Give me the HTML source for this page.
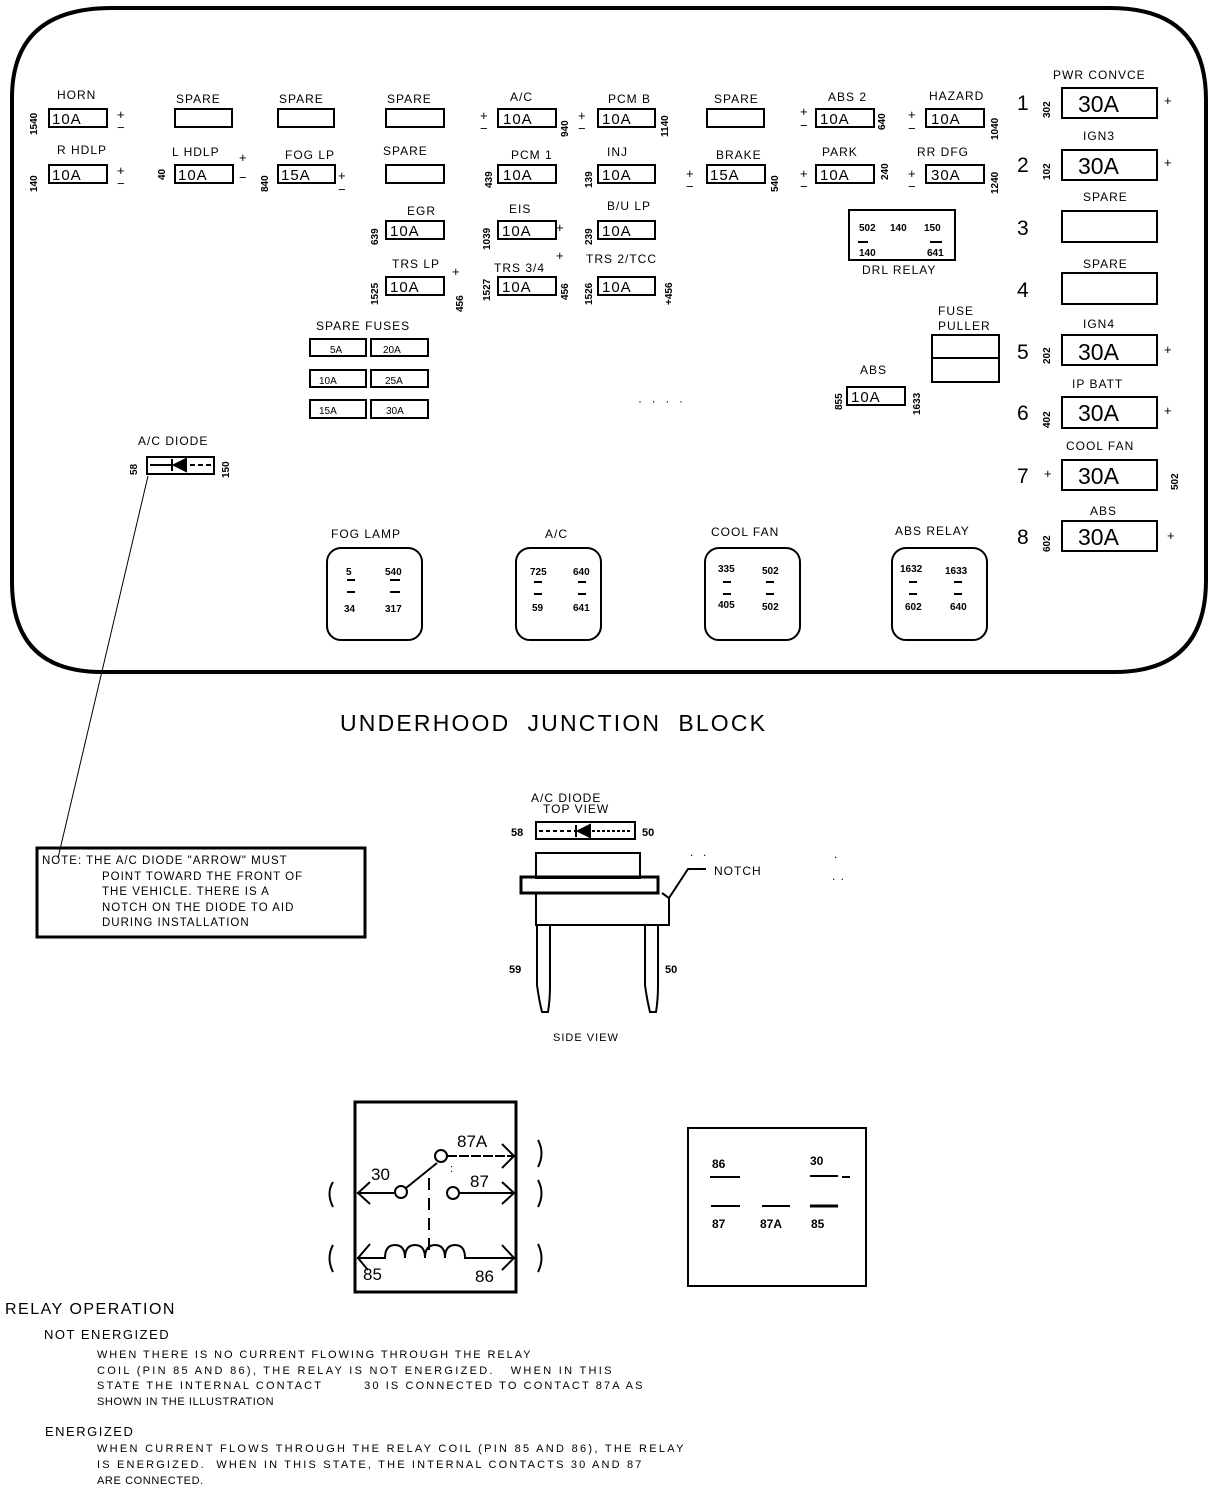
<!DOCTYPE html>
<html><head><meta charset="utf-8"><style>
html,body{margin:0;padding:0;background:#fff;}
svg{display:block;font-family:"Liberation Sans",sans-serif;font-size:12px;letter-spacing:1px}
text{fill:#000;stroke:none;white-space:pre}
.v{font-size:15px;letter-spacing:1px}
.b{font-size:23px;letter-spacing:0}
.s{font-size:10px;letter-spacing:0}
.r{font-size:10px;font-weight:bold;letter-spacing:0}
</style></head><body>
<svg width="1216" height="1490" viewBox="0 0 1216 1490" xmlns="http://www.w3.org/2000/svg" stroke="#000" fill="none">
<path d="M112 8 H1110 Q1206 8 1206 100 V580 Q1206 672 1114 672 H102 Q12 672 12 582 V98 Q12 8 112 8 Z" stroke-width="4"/>
<g stroke-width="2">
<rect x="49" y="109" width="58" height="18"/><rect x="175" y="109" width="57" height="18"/><rect x="278" y="109" width="56" height="18"/><rect x="386" y="109" width="58" height="18"/><rect x="498" y="109" width="58" height="18"/><rect x="598" y="109" width="57" height="18"/><rect x="707" y="109" width="57" height="18"/><rect x="816" y="109" width="58" height="18"/><rect x="926" y="109" width="58" height="18"/>
<rect x="49" y="165" width="58" height="18"/><rect x="175" y="165" width="58" height="18"/><rect x="278" y="165" width="57" height="18"/><rect x="386" y="165" width="58" height="18"/><rect x="498" y="165" width="58" height="18"/><rect x="598" y="165" width="57" height="18"/><rect x="707" y="165" width="58" height="18"/><rect x="816" y="165" width="58" height="18"/><rect x="926" y="165" width="58" height="18"/>
<rect x="386" y="221" width="58" height="18"/><rect x="498" y="221" width="58" height="18"/><rect x="598" y="221" width="57" height="18"/>
<rect x="386" y="277" width="58" height="18"/><rect x="498" y="277" width="58" height="18"/><rect x="598" y="277" width="57" height="18"/>
<rect x="310" y="339" width="56" height="17"/><rect x="371" y="339" width="57" height="17"/>
<rect x="310" y="370" width="56" height="17"/><rect x="371" y="370" width="57" height="17"/>
<rect x="310" y="400" width="56" height="18"/><rect x="371" y="400" width="57" height="18"/>
<rect x="849" y="210" width="106" height="50"/>
<rect x="932" y="335" width="67" height="47"/><line x1="932" y1="358" x2="999" y2="358"/>
<rect x="847" y="387" width="58" height="18"/>
<rect x="1062" y="88" width="95" height="30"/><rect x="1062" y="150" width="95" height="30"/><rect x="1062" y="211" width="95" height="31"/><rect x="1062" y="273" width="95" height="31"/><rect x="1062" y="335" width="95" height="30"/><rect x="1062" y="397" width="95" height="31"/><rect x="1062" y="460" width="95" height="30"/><rect x="1062" y="521" width="95" height="30"/>
<rect x="147" y="457" width="67" height="17"/>
<line x1="150" y1="465" x2="172" y2="465"/><line x1="190" y1="465" x2="211" y2="465" stroke-dasharray="5 3"/>
<rect x="327" y="548" width="95" height="92" rx="14"/><rect x="516" y="548" width="85" height="92" rx="14"/><rect x="705" y="548" width="95" height="92" rx="14"/><rect x="892" y="548" width="95" height="92" rx="14"/>
</g>
<path d="M172 459 L172 471 M186 459 L174 465 L186 471 Z" fill="#000" stroke-width="2"/>
<g stroke-width="2">
<line x1="347" y1="580" x2="355" y2="580"/><line x1="347" y1="592" x2="355" y2="592"/><line x1="390" y1="580" x2="400" y2="580"/><line x1="390" y1="592" x2="400" y2="592"/>
<line x1="534" y1="582" x2="542" y2="582"/><line x1="534" y1="594" x2="542" y2="594"/><line x1="578" y1="582" x2="586" y2="582"/><line x1="578" y1="594" x2="586" y2="594"/>
<line x1="723" y1="582" x2="731" y2="582"/><line x1="723" y1="594" x2="731" y2="594"/><line x1="766" y1="582" x2="774" y2="582"/><line x1="766" y1="594" x2="774" y2="594"/>
<line x1="909" y1="582" x2="917" y2="582"/><line x1="909" y1="594" x2="917" y2="594"/><line x1="954" y1="582" x2="962" y2="582"/><line x1="954" y1="594" x2="962" y2="594"/>
<line x1="930" y1="242" x2="942" y2="242"/><line x1="858" y1="242" x2="868" y2="242"/>
</g>
<text x="57" y="99">HORN</text><text x="176" y="103">SPARE</text><text x="279" y="103">SPARE</text><text x="387" y="103">SPARE</text><text x="510" y="101">A/C</text><text x="608" y="103">PCM B</text><text x="714" y="103">SPARE</text><text x="828" y="101">ABS 2</text><text x="929" y="100">HAZARD</text>
<text x="57" y="154">R HDLP</text><text x="172" y="156">L HDLP</text><text x="285" y="159">FOG LP</text><text x="383" y="155">SPARE</text><text x="511" y="159">PCM 1</text><text x="607" y="156">INJ</text><text x="716" y="159">BRAKE</text><text x="822" y="156">PARK</text><text x="917" y="156">RR DFG</text>
<text x="407" y="215">EGR</text><text x="509" y="213">EIS</text><text x="607" y="210">B/U LP</text>
<text x="392" y="268">TRS LP</text><text x="494" y="272">TRS 3/4</text><text x="586" y="263">TRS 2/TCC</text>
<text x="316" y="330">SPARE FUSES</text>
<g class="v">
<text x="52" y="124">10A</text><text x="52" y="180">10A</text><text x="178" y="180">10A</text><text x="281" y="180">15A</text>
<text x="503" y="124">10A</text><text x="602" y="124">10A</text><text x="820" y="124">10A</text><text x="931" y="124">10A</text>
<text x="503" y="180">10A</text><text x="602" y="180">10A</text><text x="710" y="180">15A</text><text x="820" y="180">10A</text><text x="931" y="180">30A</text>
<text x="390" y="236">10A</text><text x="502" y="236">10A</text><text x="602" y="236">10A</text>
<text x="390" y="292">10A</text><text x="502" y="292">10A</text><text x="602" y="292">10A</text>
<text x="851" y="402">10A</text>
</g>
<g class="s">
<text x="330" y="353">5A</text><text x="383" y="353">20A</text><text x="319" y="384">10A</text><text x="385" y="384">25A</text><text x="319" y="414">15A</text><text x="386" y="414">30A</text>
</g>
<g style="font-size:13px">
<text x="117" y="119">+</text><text x="117" y="132">−</text><text x="117" y="175">+</text><text x="117" y="188">−</text>
<text x="239" y="162">+</text><text x="239" y="182">−</text><text x="338" y="180">+</text><text x="338" y="194">−</text>
<text x="480" y="120">+</text><text x="480" y="133">−</text><text x="578" y="120">+</text><text x="578" y="133">−</text>
<text x="800" y="116">+</text><text x="800" y="130">−</text><text x="908" y="119">+</text><text x="908" y="133">−</text>
<text x="686" y="178">+</text><text x="686" y="191">−</text><text x="800" y="178">+</text><text x="800" y="191">−</text><text x="908" y="178">+</text><text x="908" y="191">−</text>
<text x="556" y="232">+</text><text x="556" y="260">+</text><text x="452" y="276">+</text>
<text x="1164" y="105">+</text><text x="1164" y="167">+</text><text x="1164" y="354">+</text><text x="1164" y="415">+</text><text x="1044" y="478">+</text><text x="1167" y="540">+</text>
</g>
<g class="r">
<text transform="translate(37,135) rotate(-90)">1540</text><text transform="translate(37,192) rotate(-90)">140</text>
<text transform="translate(165,180) rotate(-90)">40</text><text transform="translate(268,192) rotate(-90)">840</text>
<text transform="translate(568,137) rotate(-90)">940</text><text transform="translate(668,137) rotate(-90)">1140</text>
<text transform="translate(885,130) rotate(-90)">640</text><text transform="translate(998,140) rotate(-90)">1040</text>
<text transform="translate(492,188) rotate(-90)">439</text><text transform="translate(592,188) rotate(-90)">139</text>
<text transform="translate(778,192) rotate(-90)">540</text><text transform="translate(888,180) rotate(-90)">240</text><text transform="translate(998,194) rotate(-90)">1240</text>
<text transform="translate(378,245) rotate(-90)">639</text><text transform="translate(490,250) rotate(-90)">1039</text><text transform="translate(592,245) rotate(-90)">239</text>
<text transform="translate(378,305) rotate(-90)">1525</text><text transform="translate(490,301) rotate(-90)">1527</text><text transform="translate(592,305) rotate(-90)">1526</text>
<text transform="translate(463,312) rotate(-90)">456</text><text transform="translate(568,300) rotate(-90)">456</text><text transform="translate(672,305) rotate(-90)">+456</text>
<text transform="translate(842,410) rotate(-90)">855</text><text transform="translate(920,415) rotate(-90)">1633</text>
<text transform="translate(1050,118) rotate(-90)">302</text><text transform="translate(1050,180) rotate(-90)">102</text><text transform="translate(1050,364) rotate(-90)">202</text><text transform="translate(1050,428) rotate(-90)">402</text><text transform="translate(1178,490) rotate(-90)">502</text><text transform="translate(1050,552) rotate(-90)">602</text>
<text transform="translate(137,475) rotate(-90)">58</text><text transform="translate(229,478) rotate(-90)">150</text>
</g>
<g class="r"><text x="859" y="231">502</text><text x="890" y="231">140</text><text x="924" y="231">150</text><text x="859" y="256">140</text><text x="927" y="256">641</text></g>
<text x="862" y="274">DRL RELAY</text>
<text x="938" y="315">FUSE</text><text x="938" y="330">PULLER</text><text x="860" y="374">ABS</text>
<text x="638" y="405">·  ·  ·  ·</text>
<text x="1053" y="79">PWR CONVCE</text><text x="1083" y="140">IGN3</text><text x="1083" y="201">SPARE</text><text x="1083" y="268">SPARE</text><text x="1083" y="328">IGN4</text><text x="1072" y="388">IP BATT</text><text x="1066" y="450">COOL FAN</text><text x="1090" y="515">ABS</text>
<g class="b"><text x="1078" y="112">30A</text><text x="1078" y="174">30A</text><text x="1078" y="360">30A</text><text x="1078" y="421">30A</text><text x="1078" y="484">30A</text><text x="1078" y="545">30A</text></g>
<g style="font-size:21px;letter-spacing:0"><text x="1017" y="110">1</text><text x="1017" y="172">2</text><text x="1017" y="235">3</text><text x="1017" y="297">4</text><text x="1017" y="359">5</text><text x="1017" y="420">6</text><text x="1017" y="483">7</text><text x="1017" y="544">8</text></g>
<text x="138" y="445">A/C DIODE</text>
<text x="331" y="538">FOG LAMP</text><text x="545" y="538">A/C</text><text x="711" y="536">COOL FAN</text><text x="895" y="535">ABS RELAY</text>
<g class="r"><text x="346" y="575">5</text><text x="385" y="575">540</text><text x="344" y="612">34</text><text x="385" y="612">317</text>
<text x="530" y="575">725</text><text x="573" y="575">640</text><text x="532" y="611">59</text><text x="573" y="611">641</text>
<text x="718" y="572">335</text><text x="762" y="574">502</text><text x="718" y="608">405</text><text x="762" y="610">502</text>
<text x="900" y="572">1632</text><text x="945" y="574">1633</text><text x="905" y="610">602</text><text x="950" y="610">640</text></g>
<text x="340" y="731" style="font-size:23px;letter-spacing:3px" textLength="428">UNDERHOOD  JUNCTION  BLOCK</text>
<line x1="148" y1="476" x2="58" y2="858" stroke-width="1"/>
<rect x="37" y="848" width="328" height="89" stroke-width="3"/>
<g style="font-size:11.5px"><text x="42" y="864">NOTE: THE A/C DIODE "ARROW" MUST</text><text x="102" y="880">POINT TOWARD THE FRONT OF</text><text x="102" y="895">THE VEHICLE. THERE IS A</text><text x="102" y="911">NOTCH ON THE DIODE TO AID</text><text x="102" y="926">DURING INSTALLATION</text></g>
<text x="531" y="802">A/C DIODE</text><text x="543" y="813">TOP VIEW</text>
<text x="511" y="836" class="r" style="font-size:11px">58</text><text x="642" y="836" class="r" style="font-size:11px">50</text>
<g stroke-width="2">
<rect x="536" y="822" width="99" height="17"/>
<line x1="539" y1="831" x2="576" y2="831" stroke-dasharray="4 3"/><line x1="592" y1="831" x2="632" y2="831" stroke-dasharray="3 2"/>
<rect x="536" y="853" width="104" height="25"/>
<rect x="521" y="877" width="137" height="16" stroke-width="3"/>
<path d="M536 893 V925 H669 V898 L662 893"/>
<path d="M537 925 V985 Q539 1000 542 1012 H548 Q550 1000 550 985 V925"/>
<path d="M645 925 V985 Q647 1000 650 1012 H656 Q658 1000 658 985 V925"/>
<path d="M669 898 L688 869 H706"/>
</g>
<path d="M576 825 V837 M590 825 L578 831 L590 837 Z" fill="#000" stroke-width="2"/>
<text x="714" y="875">NOTCH</text>
<text x="509" y="973" class="r" style="font-size:11px">59</text><text x="665" y="973" class="r" style="font-size:11px">50</text>
<text x="553" y="1041" style="font-size:11px">SIDE VIEW</text>
<text x="690" y="856">.  .</text><text x="834" y="858">.</text><text x="832" y="880">. .</text>
<rect x="355" y="1102" width="161" height="190" stroke-width="3"/>
<g stroke-width="2">
<line x1="357" y1="1193" x2="394" y2="1193"/><circle cx="401" cy="1192" r="6"/>
<line x1="406" y1="1188" x2="437" y2="1163"/><circle cx="441" cy="1156" r="6"/>
<line x1="447" y1="1156" x2="514" y2="1156" stroke-dasharray="10 2"/>
<circle cx="453" cy="1193" r="6"/><line x1="459" y1="1193" x2="514" y2="1193"/>
<line x1="429" y1="1178" x2="429" y2="1250" stroke-dasharray="12 8"/>
<path d="M357 1258 H385 q0 -13 10 -13 q10 0 10 13 q0 -13 10 -13 q10 0 10 13 q0 -13 10 -13 q10 0 10 13 q0 -13 10 -13 q10 0 10 13 H514"/>
<path d="M370 1182 L358 1193 L370 1204 M370 1244 L358 1258 L368 1270 M502 1144 L514 1156 L502 1168 M502 1182 L514 1193 L502 1204 M502 1245 L514 1258 L502 1270"/>
<path d="M333 1182 Q326 1193 333 1207 M333 1245 Q326 1258 333 1272 M538 1140 Q545 1153 538 1167 M538 1180 Q545 1193 538 1207 M538 1244 Q545 1258 538 1272"/>
</g>
<g style="font-size:17px;letter-spacing:0"><text x="371" y="1180">30</text><text x="457" y="1147">87A</text><text x="470" y="1187">87</text><text x="363" y="1280">85</text><text x="475" y="1282">86</text></g>
<text x="450" y="1172" style="font-size:11px">:</text>
<rect x="688" y="1128" width="178" height="158" stroke-width="2"/>
<g stroke-width="2"><line x1="710" y1="1177" x2="740" y2="1177"/><line x1="810" y1="1176" x2="838" y2="1176"/><line x1="842" y1="1177" x2="850" y2="1177"/>
<line x1="711" y1="1206" x2="740" y2="1206"/><line x1="762" y1="1206" x2="790" y2="1206"/><line x1="810" y1="1206" x2="838" y2="1206" stroke-width="3"/></g>
<g class="r" style="font-size:12px"><text x="712" y="1168">86</text><text x="810" y="1165">30</text><text x="712" y="1228">87</text><text x="760" y="1228">87A</text><text x="811" y="1228">85</text></g>
<text x="5" y="1314" style="font-size:16px;letter-spacing:1.5px">RELAY OPERATION</text>
<text x="44" y="1339" style="font-size:13px;letter-spacing:1.5px">NOT ENERGIZED</text>
<g style="font-size:11px;letter-spacing:0.6px">
<text x="97" y="1358" textLength="434">WHEN THERE IS NO CURRENT FLOWING THROUGH THE RELAY</text>
<text x="97" y="1374" textLength="515">COIL (PIN 85 AND 86), THE RELAY IS NOT ENERGIZED.   WHEN IN THIS</text>
<text x="97" y="1389" textLength="546">STATE THE INTERNAL CONTACT        30 IS CONNECTED TO CONTACT 87A AS</text>
<text x="97" y="1405">SHOWN IN THE ILLUSTRATION</text>
<text x="97" y="1452" textLength="587">WHEN CURRENT FLOWS THROUGH THE RELAY COIL (PIN 85 AND 86), THE RELAY</text>
<text x="97" y="1468" textLength="545">IS ENERGIZED.  WHEN IN THIS STATE, THE INTERNAL CONTACTS 30 AND 87</text>
<text x="97" y="1484">ARE CONNECTED.</text>
</g>
<text x="45" y="1436" style="font-size:13px;letter-spacing:1.5px">ENERGIZED</text>
</svg>
</body></html>
